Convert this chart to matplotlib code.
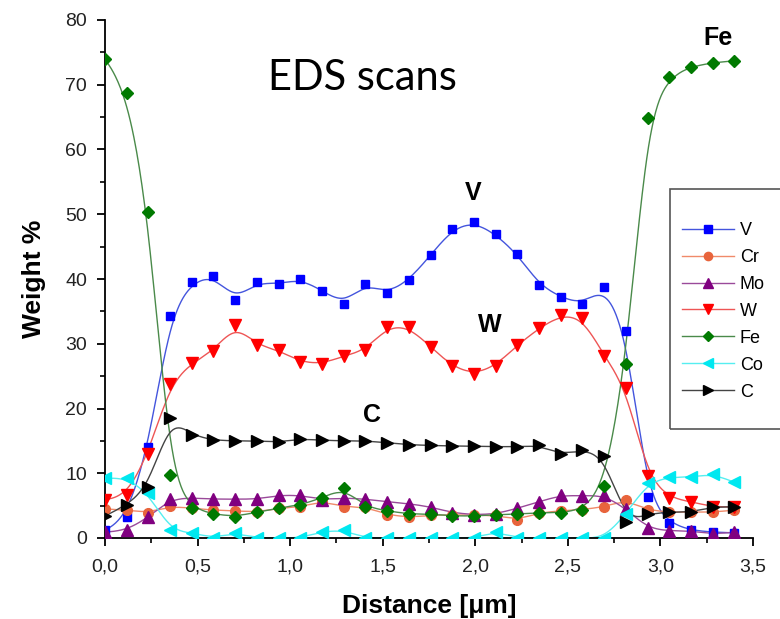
import numpy as np
import matplotlib
matplotlib.use('Agg')
import matplotlib.pyplot as plt
from matplotlib.patches import Rectangle
from matplotlib.ticker import MultipleLocator, FuncFormatter

# distancia de cada punto del barrido (um)
distancia = [0.000, 0.117, 0.234, 0.352, 0.469, 0.586, 0.703, 0.821, 0.938, 1.055,
             1.172, 1.290, 1.407, 1.524, 1.641, 1.759, 1.876, 1.993, 2.110, 2.228,
             2.345, 2.462, 2.579, 2.697, 2.814, 2.931, 3.048, 3.166, 3.283, 3.400]

V = [1.2, 3.2, 14.0, 34.3, 39.5, 40.5, 36.8, 39.5, 39.2, 40.0,
     38.2, 36.2, 39.3, 37.8, 39.8, 43.7, 47.7, 48.8, 46.9, 43.8,
     39.1, 37.2, 36.1, 38.8, 32.0, 6.3, 2.3, 1.2, 0.9, 0.8]
Cr = [4.5, 4.3, 3.9, 4.9, 4.6, 4.3, 4.2, 4.0, 4.6, 4.8,
      5.7, 4.8, 4.8, 3.6, 3.2, 3.5, 3.6, 3.5, 3.5, 2.8,
      3.9, 4.2, 4.4, 4.8, 5.9, 4.3, 4.0, 4.0, 4.0, 4.3]
Mo = [0.9, 1.2, 3.2, 6.0, 6.2, 6.0, 6.0, 6.0, 6.6, 6.6,
      5.9, 6.2, 6.0, 5.6, 5.3, 4.8, 3.9, 3.6, 3.7, 4.6,
      5.6, 6.6, 6.5, 6.6, 4.5, 1.5, 1.1, 1.1, 0.6, 0.9]
W = [5.9, 6.6, 13.0, 23.8, 27.0, 28.9, 32.9, 29.8, 29.0, 27.2,
     26.9, 28.1, 29.0, 32.6, 32.6, 29.5, 26.5, 25.3, 26.6, 29.8,
     32.4, 34.4, 34.0, 28.1, 23.2, 9.5, 6.2, 5.6, 4.8, 4.8]
Fe = [74.0, 68.8, 50.4, 9.7, 4.6, 3.7, 3.3, 4.0, 4.6, 5.1,
      6.2, 7.7, 4.8, 4.2, 3.7, 3.7, 3.4, 3.4, 3.6, 3.7,
      3.9, 3.9, 4.4, 8.0, 26.9, 64.8, 71.2, 72.8, 73.4, 73.7]
Co = [9.2, 9.3, 6.9, 1.2, 0.8, 0.0, 0.8, 0.0, 0.0, 0.0,
      1.0, 1.2, 0.0, 0.0, 0.0, 0.0, 0.0, 0.0, 1.0, 0.0,
      0.0, 0.0, 0.0, 0.0, 3.7, 8.5, 9.4, 9.4, 9.9, 8.6]
C = [3.4, 5.1, 7.9, 18.5, 15.9, 15.1, 15.0, 15.0, 14.8, 15.3,
     15.1, 15.0, 15.0, 14.7, 14.4, 14.3, 14.2, 14.2, 14.1, 14.1,
     14.3, 12.9, 13.6, 12.6, 2.5, 3.7, 4.0, 4.0, 4.8, 4.8]

series = [('V', V, 's', '#0000ff', '#4455dd', 6.0),
          ('Cr', Cr, 'o', '#e8643c', '#f08a6a', 7.0),
          ('Mo', Mo, '^', '#800080', '#9a4a9a', 8.0),
          ('W', W, 'v', '#ff0000', '#ee5555', 8.0),
          ('Fe', Fe, 'D', '#007a00', '#4a8a4a', 6.0),
          ('Co', Co, '<', '#00e8f0', '#55eef0', 8.0),
          ('C', C, '>', '#000000', '#444444', 8.0)]


def bspline(x, y, n=25):
    # B-spline cubica uniforme (como el "B-Spline" de Origin)
    px = np.r_[x[0], x[0], x, x[-1], x[-1]]
    py = np.r_[y[0], y[0], y, y[-1], y[-1]]
    t = np.linspace(0, 1, n)
    b = [(1 - t)**3 / 6, (3*t**3 - 6*t**2 + 4) / 6,
         (-3*t**3 + 3*t**2 + 3*t + 1) / 6, t**3 / 6]
    xs, ys = [], []
    for i in range(len(px) - 3):
        xs.append(sum(b[k] * px[i + k] for k in range(4)))
        ys.append(sum(b[k] * py[i + k] for k in range(4)))
    return np.concatenate(xs), np.concatenate(ys)


narrow = ['Liberation Sans Narrow', 'Liberation Sans', 'DejaVu Sans']

fig = plt.figure(figsize=(7.8, 6.19), dpi=100)
ax = fig.add_axes([105/780, 81/619, 648/780, 518/619])

x = np.array(distancia)
handles = []
for nombre, y, m, mc, lc, ms in series:
    xs, ys = bspline(x, np.array(y))
    ax.plot(xs, ys, color=lc, lw=1.0, zorder=2)
    ax.plot(x, y, ls='none', marker=m, color=mc, ms=ms, mec=mc, zorder=3)
    h, = ax.plot([], [], ls='-', lw=1.0, color=lc, marker=m, ms=ms * 0.85,
                 mfc=mc, mec=mc, label=nombre)
    handles.append(h)

ax.set_xlim(0, 3.5)
ax.set_ylim(0, 80)
ax.spines['top'].set_visible(False)
ax.spines['right'].set_visible(False)
ax.spines['left'].set_linewidth(1.3)
ax.spines['bottom'].set_linewidth(1.3)
ax.xaxis.set_major_locator(MultipleLocator(0.5))
ax.xaxis.set_minor_locator(MultipleLocator(0.25))
ax.yaxis.set_major_locator(MultipleLocator(10))
ax.yaxis.set_minor_locator(MultipleLocator(5))
ax.xaxis.set_major_formatter(FuncFormatter(lambda v, p: f'{v:.1f}'.replace('.', ',')))
ax.tick_params(which='major', direction='out', length=6, width=1.3, labelsize=14, pad=9)
ax.tick_params(axis='y', which='major', pad=7)
ax.tick_params(which='minor', direction='out', length=3.5, width=1.2)
for lab in ax.get_xticklabels() + ax.get_yticklabels():
    lab.set_family(narrow)
    lab.set_color('#222222')

ax.set_xlabel('Distance [μm]', fontsize=19, fontweight='bold', family=narrow, labelpad=13)
ax.set_ylabel('Weight %', fontsize=19, fontweight='bold', family=narrow, labelpad=14)

ax.text(1.39, 71.0, 'EDS scans', fontsize=30, family=['Lato', 'DejaVu Sans'],
        ha='center', va='center')
for txt, xx, yy in [('V', 1.99, 53.3), ('W', 2.08, 32.9), ('C', 1.44, 19.0), ('Fe', 3.31, 77.2)]:
    ax.text(xx, yy, txt, fontsize=18, fontweight='bold', family=['Liberation Sans', 'DejaVu Sans'],
            ha='center', va='center')

# caja de la leyenda (cortada por el borde derecho)
fig.patches.append(Rectangle((670/780, 1 - 429/619), 0.2, 240/619, transform=fig.transFigure,
                             fill=False, edgecolor='#555555', lw=1.2))
fig.legend(handles=handles, loc='upper left', bbox_to_anchor=(682/780, 1 - 222/619),
           frameon=False, borderpad=0, borderaxespad=0, handlelength=2.9,
           handletextpad=0.3, labelspacing=0.55,
           prop={'family': ['Liberation Sans', 'DejaVu Sans'], 'size': 13})

fig.savefig('out.png', dpi=100)
